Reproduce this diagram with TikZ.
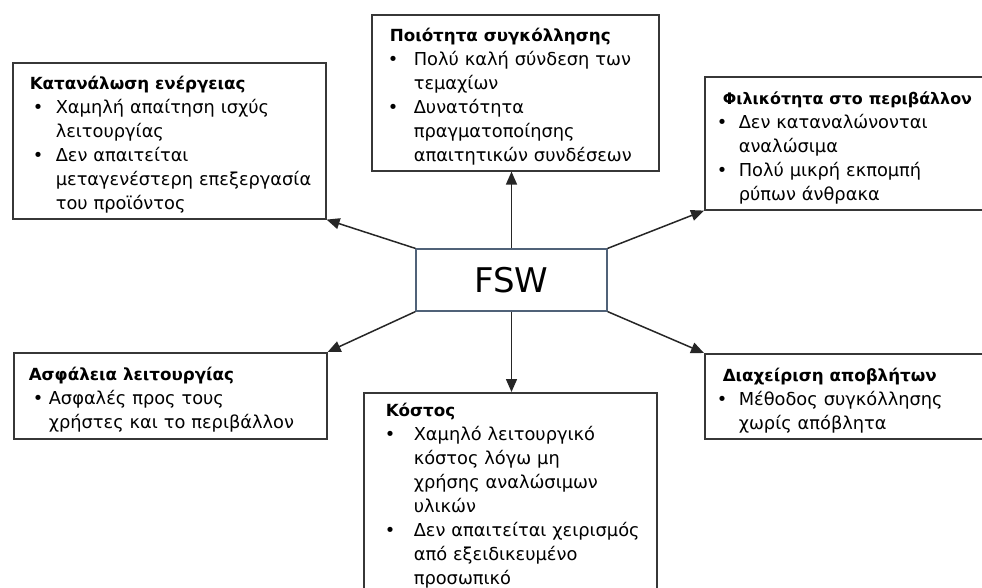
\documentclass[tikz,border=0pt]{standalone}
\usepackage{fontspec}
\setmainfont{DejaVu Sans}
\usetikzlibrary{arrows.meta}
\definecolor{fswc}{RGB}{80,98,120}
\definecolor{boxc}{RGB}{55,55,55}
\newcommand{\ttl}[1]{\multicolumn{2}{@{}l@{}}{\fontsize{16.7bp}{24bp}\selectfont\bfseries #1}}
\newcommand{\ttls}[1]{\multicolumn{2}{@{}l@{}}{\fontsize{15.9bp}{24bp}\selectfont\bfseries #1}}
\newcommand{\bul}[1]{\hspace*{#1}•}
\newcommand{\tb}[2]{\raisebox{-4bp}[\height][\depth]{\begin{tabular}{@{}p{#1}@{}l@{}}#2\end{tabular}}}
\begin{document}
\begin{tikzpicture}[x=1bp,y=-1bp,
  box/.style={draw=boxc, line width=1.6bp, rectangle, anchor=north west,
    inner ysep=0bp, align=left, font=\fontsize{17.8bp}{24bp}\selectfont},
  arr/.style={draw=black!85, line width=1.5bp, -{Triangle[length=13bp,width=11bp]}},
  fswbox/.style={draw=fswc, line width=1.2bp, rectangle, minimum width=191bp,
    minimum height=62bp, inner sep=0bp, font=\fontsize{34bp}{40bp}\selectfont}]
\clip (0,0) rectangle (982,588);
\fill[white] (0,0) rectangle (982,588);

\node[fswbox] (fsw) at (511.5,280) {FSW};

\node[box, inner xsep=17bp, text width=279bp, minimum height=156bp] (kat) at (12,62) {%
\tb{26bp}{%
\ttl{Κατανάλωση ενέργειας}\\
\bul{3bp} & Χαμηλή απαίτηση ισχύς\\
 & λειτουργίας\\
\bul{3bp} & Δεν απαιτείται\\
 & μεταγενέστερη επεξεργασία\\
 & του προϊόντος}};

\node[box, inner xsep=18bp, text width=251bp, minimum height=156bp] (poi) at (371,14) {%
\tb{24bp}{%
\ttl{Ποιότητα συγκόλλησης}\\
\bul{-2bp} & Πολύ καλή σύνδεση των\\
 & τεμαχίων\\
\bul{-2bp} & Δυνατότητα\\
 & πραγματοποίησης\\
 & απαιτητικών συνδέσεων}};

\node[box, inner xsep=18bp, text width=264bp, minimum height=133bp] (fil) at (704,76) {%
\tb{16bp}{%
\ttls{Φιλικότητα στο περιβάλλον}\\
\bul{-6bp} & Δεν καταναλώνονται\\
 & αναλώσιμα\\
\bul{-6bp} & Πολύ μικρή εκπομπή\\
 & ρύπων άνθρακα}};

\node[box, inner xsep=15bp, text width=283bp, minimum height=86bp] (asf) at (13,352) {%
\tb{20bp}{%
\ttl{Ασφάλεια λειτουργίας}\\
\bul{4bp} & Ασφαλές προς τους\\
 & χρήστες και το περιβάλλον}};

\node[box, inner xsep=18bp, text width=264bp, minimum height=85bp] (dia) at (704,353) {%
\tb{16bp}{%
\ttl{Διαχείριση αποβλήτων}\\
\bul{-6bp} & Μέθοδος συγκόλλησης\\
 & χωρίς απόβλητα}};

\node[box, inner xsep=22bp, inner ysep=1bp, text width=249bp, minimum height=205bp] (kos) at (363,392) {%
\begin{tabular}{@{}p{28bp}@{}l@{}}
\ttl{Κόστος}\\
\bul{-1bp} & Χαμηλό λειτουργικό\\
 & κόστος λόγω μη\\
 & χρήσης αναλώσιμων\\
 & υλικών\\
\bul{-1bp} & Δεν απαιτείται χειρισμός\\
 & από εξειδικευμένο\\
 & προσωπικό
\end{tabular}};

\draw[arr] (fsw.north west) -- (kat.south east);
\draw[arr] (fsw.north) -- (fsw.north |- poi.south);
\draw[arr] (fsw.north east) -- (fil.south west);
\draw[arr] (fsw.south west) -- (asf.north east);
\draw[arr] (fsw.south) -- (fsw.south |- kos.north);
\draw[arr] (fsw.south east) -- (dia.north west);
\end{tikzpicture}
\end{document}
